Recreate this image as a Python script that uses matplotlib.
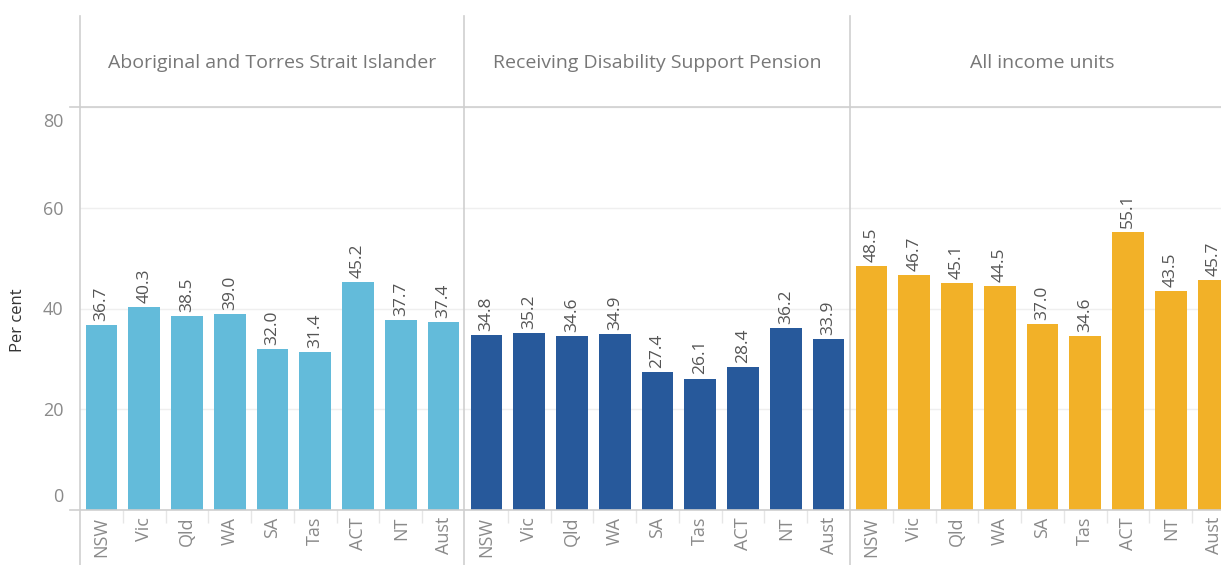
import matplotlib
matplotlib.use("Agg")
import matplotlib.pyplot as plt
from matplotlib.lines import Line2D
from matplotlib.transforms import ScaledTranslation

# ---- data ----
categories = ["NSW", "Vic", "Qld", "WA", "SA", "Tas", "ACT", "NT", "Aust"]
panel_titles = ["Aboriginal and Torres Strait Islander",
                "Receiving Disability Support Pension",
                "All income units"]
aboriginal = [36.7, 40.3, 38.5, 39.0, 32.0, 31.4, 45.2, 37.7, 37.4]
disability = [34.8, 35.2, 34.6, 34.9, 27.4, 26.1, 28.4, 36.2, 33.9]
all_units = [48.5, 46.7, 45.1, 44.5, 37.0, 34.6, 55.1, 43.5, 45.7]
y_ticks = [0, 20, 40, 60, 80]
y_label = "Per cent"

series = [aboriginal, disability, all_units]
colors = ["#63BBDA", "#27599B", "#F2B128"]

plt.rcParams['font.family'] = ['Open Sans', 'DejaVu Sans']

W, H = 1221, 565
fig = plt.figure(figsize=(W / 100, H / 100), dpi=100)

def fx(px):
    return px / W

def fy(py):
    return 1 - py / H

panel_left = [80, 465, 850]
panel_w = 385
top_px, bot_px, head_px = 107, 510, 16
line_col = "#cfcfcf"

for k, (vals, col, title) in enumerate(zip(series, colors, panel_titles)):
    ax = fig.add_axes([fx(panel_left[k]), fy(bot_px), fx(panel_w), (bot_px - top_px) / H])
    x = list(range(len(categories)))
    ax.bar(x, vals, width=0.74, color=col, zorder=2)
    ax.set_xlim(-0.5, len(categories) - 0.5)
    ax.set_ylim(0, 80)
    for s in ax.spines.values():
        s.set_visible(False)
    ax.set_yticks(y_ticks)
    ax.grid(axis='y', color="#efefef", linewidth=1, zorder=0)
    ax.set_xticks(x)
    ax.set_xticklabels(categories, rotation=90, fontsize=13, color="#8a8a8a")
    ax.tick_params(axis='x', length=0, pad=5)
    ax.set_xticks([i + 0.5 for i in range(len(categories) - 1)], minor=True)
    ax.tick_params(axis='x', which='minor', length=9, color="#e6e6e6", width=1)
    for xi, v in zip(x, vals):
        ax.text(xi, v + 0.8, f"{v:.1f}", rotation=90, ha='center', va='bottom',
                fontsize=12.5, color="#555555")
    if k == 0:
        ax.set_yticklabels([str(t) for t in y_ticks], fontsize=13, color="#8a8a8a")
        ax.tick_params(axis='y', length=0, pad=12)
        tl = ax.get_yticklabels()
        tl[0].set_va('bottom')
        tl[0].set_transform(tl[0].get_transform() + ScaledTranslation(0, 4 / 100, fig.dpi_scale_trans))
        tl[-1].set_va('top')
        tl[-1].set_transform(tl[-1].get_transform() + ScaledTranslation(0, -6 / 100, fig.dpi_scale_trans))
    else:
        ax.tick_params(axis='y', length=0, labelleft=False)
    fig.text(fx(panel_left[k] + panel_w / 2), fy(63), title, ha='center', va='center',
             fontsize=14, color="#777777")

fig.text(fx(18), fy(320), y_label, rotation=90, ha='center', va='center',
         fontsize=12, color="#333333")

for xp in [80, 464, 850]:
    fig.add_artist(Line2D([fx(xp), fx(xp)], [fy(head_px), 0], color=line_col, lw=1.2))
for yp in [107, 510]:
    fig.add_artist(Line2D([fx(70), 1], [fy(yp), fy(yp)], color=line_col, lw=1.2))

fig.savefig("out.png", dpi=100)
